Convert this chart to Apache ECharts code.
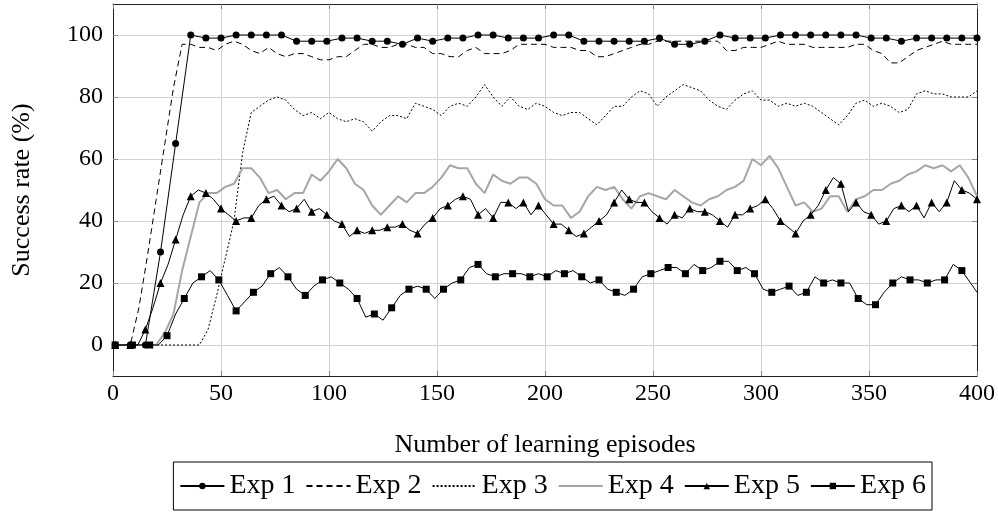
<!DOCTYPE html>
<html><head><meta charset="utf-8">
<script src="https://cdn.jsdelivr.net/npm/echarts@6/dist/echarts.min.js"></script>
<style>html,body{margin:0;padding:0;background:#fff}#c{width:998px;height:512px}</style>
</head><body><div id="c"></div>
<script>
// ---- tick labels / names ----
const xTicks = [0, 50, 100, 150, 200, 250, 300, 350, 400];
const yTicks = [0, 20, 40, 60, 80, 100];
const seriesNames = ['Exp 1', 'Exp 2', 'Exp 3', 'Exp 4', 'Exp 5', 'Exp 6'];

// ---- sampling grids (episodes) ----
function grid(start, step, n) { const a = []; for (let i = 0; i < n; i++) a.push(start + step * i); return a; }
const exp1X = grid(1, 7, 58);          // 1, 8, ..., 400
const exp234X = grid(0, 4, 101);       // 0, 4, ..., 400
const exp5X = grid(1, 3.5, 115);       // 1, 4.5, ..., 400
const exp6X = grid(1, 4, 100).concat([400]); // 1, 5, ..., 397, 400

// ---- series values (success rate %) ----
const exp1Y = [0,0,0,30,65,100,99,99,100,100, 100,100,98,98,98,99,99,98,98,97,
  99,98,99,99,100,100,99,99,99,100, 100,98,98,98,98,98,99,97,97,98,
  100,99,99,99,100,100,100,100,100,100, 99,99,98,99,99,99,99,99];
const exp2Y = [0,0,0,12,29,47,65,83,97,97, 96,96,95,97,98,97,95,94,96,94,
  93,94,94,93,92,92,93,93,95,97, 97,96,96,97,97,96,96,94,94,93,
  93,95,96,94,94,94,95,97,97,97, 97,96,96,96,95,95,93,93,94,95,
  96,97,97,98,98,98,98,98,98,98, 98,95,95,96,96,96,97,98,97,97,
  97,96,96,96,96,96,97,97,95,94, 91,91,93,95,96,97,98,97,97,97, 97];
const exp3Y = [0,0,0,0,0,0,0,0,0,0, 0,5,16,28,40,62,75,77,79,80,
  79,76,74,75,73,75,73,72,73,72, 69,72,74,74,73,78,77,76,74,77,
  78,77,80,84,80,77,80,77,76,78, 77,75,74,75,75,73,71,74,77,77,
  80,82,81,77,80,82,84,83,82,79, 77,76,79,81,82,79,79,77,78,77,
  78,77,75,73,71,74,78,79,77,78, 77,75,76,81,82,81,81,80,80,80, 82];
const exp4Y = [0,0,0,0,0,0,4,10,24,35, 46,49,49,51,52,57,57,54,49,50,
  47,49,49,55,53,56,60,57,52,50, 45,42,45,48,46,49,49,51,54,58,
  57,57,52,49,55,53,52,54,54,52, 47,45,45,41,43,48,51,50,51,47,
  44,48,49,48,47,50,48,46,45,47, 48,50,51,53,60,58,61,57,51,45,
  46,43,44,48,48,43,47,48,50,50, 52,53,55,56,58,57,58,56,58,54, 48];
const exp5Y = [0,0,0,0,5,12,20,26,34,42, 48,50,49,47,44,42,40,41,41,45,
  47,48,45,43,44,47,43,44,42,40, 39,35,37,36,37,37,38,38,39,37,
  36,39,41,44,45,47,48,47,42,44, 41,46,46,44,46,42,45,42,39,39,
  37,35,36,38,40,42,46,50,47,46, 46,43,41,39,42,41,44,43,43,42,
  40,38,42,42,44,45,47,44,40,38, 36,40,42,45,50,54,52,43,46,43,
  42,39,40,44,45,43,45,41,46,43, 46,53,50,49,47];
const exp6Y = [0,0,0,0,0,0,3,10,15,20, 22,24,21,16,11,14,17,19,23,25,
  22,18,16,19,21,22,20,18,15,9, 10,8,12,16,18,19,18,15,18,20,
  21,25,26,23,22,23,23,23,22,23, 22,24,23,24,22,20,21,18,17,16,
  18,22,23,24,25,25,23,26,24,25, 27,27,24,25,23,18,17,18,19,16,
  17,22,20,21,20,20,15,13,13,17, 20,22,21,21,20,21,21,26,24,20, 17];

// ---- build ----
function pts(xs, ys, isMark) {
  return xs.map((x, i) => isMark(i) ? { value: [x, ys[i]] } : { value: [x, ys[i]], symbol: 'none' });
}
const FONT = 'Liberation Serif';
const blk = '#000';

const chart = echarts.init(document.getElementById('c'), null, { renderer: 'canvas' });
const baseLine = (name, data, extra) => Object.assign({
  name, type: 'line', data, animation: false, showAllSymbol: true,
  lineStyle: { color: blk, width: 1 }, itemStyle: { color: blk },
  emphasis: { disabled: true }
}, extra);

const noMarkerLegend = { color: 'rgba(0,0,0,0)', borderWidth: 0, opacity: 0 };
const legendData = seriesNames.map((n, i) => (i >= 1 && i <= 3) ? { name: n, itemStyle: noMarkerLegend } : { name: n });

chart.setOption({
  animation: false,
  grid: { left: 113, right: 21, top: 4, bottom: 136 },
  xAxis: [{
    type: 'value', min: 0, max: 400, interval: 50, position: 'bottom',
    axisLine: { show: true, onZero: false, lineStyle: { color: '#222', width: 1 } },
    axisTick: { show: true, inside: true, length: 5, lineStyle: { color: '#888' } },
    axisLabel: { customValues: xTicks, fontFamily: FONT, fontSize: 24, color: blk, margin: 6 },
    splitLine: { show: true, lineStyle: { color: '#d2d2d2', width: 1 } },
    name: 'Number of learning episodes', nameLocation: 'middle', nameGap: 56,
    nameTextStyle: { fontFamily: FONT, fontSize: 26, color: blk }
  }, {
    type: 'value', min: 0, max: 400, interval: 50, position: 'top',
    axisLine: { show: true, onZero: false, lineStyle: { color: '#222', width: 1 } },
    axisTick: { show: true, inside: true, length: 5, lineStyle: { color: '#888' } },
    axisLabel: { show: false }, splitLine: { show: false }
  }],
  yAxis: [{
    type: 'value', min: -10, max: 110, position: 'left',
    axisLine: { show: true, onZero: false, lineStyle: { color: '#222', width: 1 } },
    axisTick: { show: true, inside: true, length: 5, customValues: yTicks, lineStyle: { color: '#888' } },
    axisLabel: { customValues: yTicks, fontFamily: FONT, fontSize: 24, color: blk, margin: 10 },
    splitLine: { show: true, lineStyle: { color: '#d2d2d2', width: 1 } },
    name: 'Success rate (%)', nameLocation: 'middle', nameGap: 78, nameRotate: 90,
    nameTextStyle: { fontFamily: FONT, fontSize: 26, color: blk }
  }, {
    type: 'value', min: -10, max: 110, position: 'right',
    axisLine: { show: true, onZero: false, lineStyle: { color: '#222', width: 1 } },
    axisTick: { show: true, inside: true, length: 5, customValues: yTicks, lineStyle: { color: '#888' } },
    axisLabel: { show: false }, splitLine: { show: false }
  }],
  legend: {
    data: legendData, right: 66, top: 462, orient: 'horizontal',
    padding: [10, 6, 10, 6], itemGap: 10, itemWidth: 44, itemHeight: 8,
    borderColor: '#000', borderWidth: 1, borderRadius: 0,
    textStyle: { fontFamily: FONT, fontSize: 28, color: blk }
  },
  series: [
    baseLine(seriesNames[0], pts(exp1X, exp1Y, () => true), { symbol: 'circle', symbolSize: 7 }),
    baseLine(seriesNames[1], pts(exp234X, exp2Y, () => false), { symbol: 'none', lineStyle: { color: blk, width: 1, type: [6, 4] } }),
    baseLine(seriesNames[2], pts(exp234X, exp3Y, () => false), { symbol: 'none', lineStyle: { color: blk, width: 1, type: [2, 2] } }),
    baseLine(seriesNames[3], pts(exp234X, exp4Y, () => false), { symbol: 'none', lineStyle: { color: '#a6a6a6', width: 2 }, itemStyle: { color: '#a6a6a6' } }),
    baseLine(seriesNames[4], pts(exp5X, exp5Y, i => i % 2 === 0), { symbol: 'triangle', symbolSize: 8 }),
    baseLine(seriesNames[5], pts(exp6X, exp6Y, i => i % 2 === 0 && i < 100), { symbol: 'rect', symbolSize: 7 })
  ]
});
</script>
</body></html>
